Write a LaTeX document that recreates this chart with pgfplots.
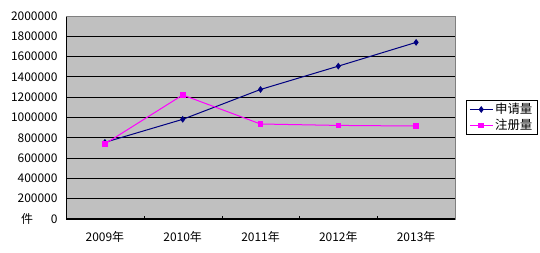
\documentclass[border=0pt]{standalone}
\usepackage{pgfplots}
\pgfplotsset{compat=1.18}
\usepackage{fontspec}
\setmainfont{Noto Sans CJK SC}
\definecolor{bggray}{HTML}{C0C0C0}
\definecolor{navyc}{HTML}{000080}
\definecolor{magc}{HTML}{FF00FF}
\begin{document}
\begin{tikzpicture}
\path[use as bounding box] (0,0) rectangle (540bp,253bp);
\begin{axis}[
  at={(66bp,34bp)}, anchor=south west,
  scale only axis, width=389bp, height=203bp,
  xmin=-0.5, xmax=4.5, ymin=0, ymax=2000000,
  xtick={0,1,2,3,4},
  xticklabels={2009年,2010年,2011年,2012年,2013年},
  major x tick style={draw=none},
  extra x ticks={0.5,1.5,2.5,3.5},
  extra x tick labels={},
  extra x tick style={major tick length=3bp, major x tick style={draw=black}, tick align=inside, grid=none},
  ytick={0,200000,400000,600000,800000,1000000,1200000,1400000,1600000,1800000,2000000},
  scaled y ticks=false,
  major y tick style={draw=none},
  yticklabel style={/pgf/number format/fixed, /pgf/number format/1000 sep={}, xshift=-5bp},
  xticklabel style={yshift=-9bp},
  /pgf/number format/assume math mode=true,
  tick label style={font=\fontsize{12}{14}\selectfont},
  ymajorgrids,
  y grid style={black, line width=0.8bp},
  axis x line*=bottom, axis y line*=left,
  axis line style={black, line width=1bp, -},
  axis background/.style={fill=bggray, draw=gray, line width=0.8bp},
  legend style={at={(1,0.5)}, anchor=west, xshift=11bp, draw=black, line width=0.8bp, fill=white,
    font=\fontsize{12.5}{14}\selectfont, inner xsep=3bp, inner ysep=1bp, row sep=0bp},
  legend cell align=left,
  legend image code/.code={\draw[mark repeat=2,mark phase=2,#1] plot coordinates {(0cm,0cm) (0.4cm,0cm) (0.8cm,0cm)};},
  clip=false,
]
\draw[gray, line width=0.8bp] (rel axis cs:0,1) -- (rel axis cs:1,1);
\addplot[color=navyc, line width=1bp, mark=diamond*, mark size=2.6bp, mark options={fill=navyc}]
  coordinates {(0,755000) (1,982000) (2,1276000) (3,1506000) (4,1740000)};
\addlegendentry{申请量}
\addplot[color=magc, line width=1bp, mark=square*, mark size=2.3bp, mark options={fill=magc}]
  coordinates {(0,740000) (1,1222000) (2,936000) (3,922000) (4,916000)};
\addlegendentry{注册量}
\node[font=\fontsize{12}{14}\selectfont] at (rel axis cs:0,0) [xshift=-39bp] {件};
\end{axis}
\end{tikzpicture}
\end{document}
